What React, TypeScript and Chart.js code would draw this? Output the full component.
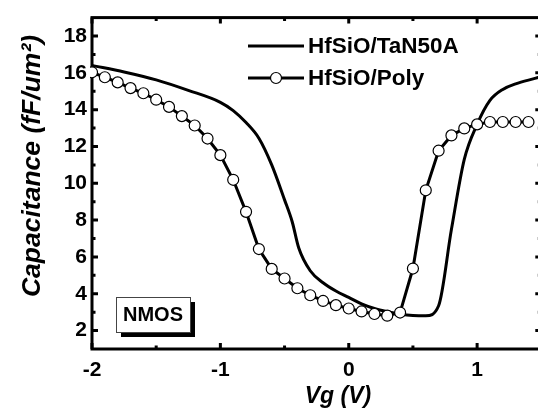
import React, { useEffect, useRef } from "react";
import { Chart, registerables } from "chart.js";

Chart.register(...registerables);

// ---- data ----
const tanX = [-2.0, -1.75, -1.5, -1.25, -1.0, -0.9, -0.8, -0.7, -0.6, -0.5, -0.44, -0.39, -0.3, -0.2, -0.1, 0.0, 0.1, 0.2, 0.3, 0.4, 0.5, 0.6, 0.7, 0.8, 0.9, 1.0, 1.1, 1.2, 1.3, 1.45, 1.5];
const tanY = [16.4, 16.05, 15.62, 15.05, 14.4, 13.95, 13.3, 12.45, 11.0, 9.1, 7.9, 6.5, 5.25, 4.6, 4.15, 3.8, 3.45, 3.2, 3.03, 2.9, 2.82, 2.8, 3.35, 7.5, 11.3, 13.2, 14.5, 15.1, 15.4, 15.7, 15.8];

const polyX = [-2.0, -1.9, -1.8, -1.7, -1.6, -1.5, -1.4, -1.3, -1.2, -1.1, -1.0, -0.9, -0.8, -0.7, -0.6, -0.5, -0.4, -0.3, -0.2, -0.1, 0.0, 0.1, 0.2, 0.3, 0.4, 0.5, 0.6, 0.7, 0.8, 0.9, 1.0, 1.1, 1.2, 1.3, 1.4];
const polyY = [16.03, 15.76, 15.48, 15.17, 14.89, 14.54, 14.15, 13.65, 13.14, 12.43, 11.53, 10.19, 8.45, 6.43, 5.35, 4.83, 4.3, 3.92, 3.61, 3.38, 3.2, 3.04, 2.9, 2.81, 2.98, 5.37, 9.62, 11.77, 12.6, 12.98, 13.2, 13.33, 13.33, 13.33, 13.33];

const xTicks = [-2, -1, 0, 1];
const yTicks = [2, 4, 6, 8, 10, 12, 14, 16, 18];
const seriesNames = ["HfSiO/TaN50A", "HfSiO/Poly"];
const xTitle = "Vg (V)";
const yTitle = "Capacitance (fF/um\u00B2)";
const boxLabel = "NMOS";

const FONT = "'Liberation Sans', Arial, Helvetica, sans-serif";

const framePlugin = {
  id: "frame",
  beforeDatasetsDraw(chart: any) {
    const { ctx, chartArea: a, scales } = chart;
    const xs = scales.x;
    const ys = scales.y;
    ctx.save();
    ctx.strokeStyle = "#000";
    ctx.lineWidth = 3;
    ctx.strokeRect(a.left, a.top, a.right - a.left, a.bottom - a.top);

    const majorLen = 6;
    const minorLen = 3.5;
    const xMinor: number[] = [];
    for (let i = 0; i < xTicks.length; i++) {
      const step = i + 1 < xTicks.length ? xTicks[i + 1] - xTicks[i] : xTicks[i] - xTicks[i - 1];
      const m = xTicks[i] + step / 2;
      if (m > xs.min && m < xs.max) xMinor.push(m);
    }
    const yMinor: number[] = [];
    for (let i = 0; i < yTicks.length; i++) {
      const step = i + 1 < yTicks.length ? yTicks[i + 1] - yTicks[i] : yTicks[i] - yTicks[i - 1];
      const m = yTicks[i] + step / 2;
      if (m > ys.min && m < ys.max) yMinor.push(m);
    }
    const drawX = (v: number, len: number) => {
      const px = xs.getPixelForValue(v);
      ctx.beginPath();
      ctx.moveTo(px, a.bottom);
      ctx.lineTo(px, a.bottom - len);
      ctx.moveTo(px, a.top);
      ctx.lineTo(px, a.top + len);
      ctx.stroke();
    };
    const drawY = (v: number, len: number) => {
      const py = ys.getPixelForValue(v);
      ctx.beginPath();
      ctx.moveTo(a.left, py);
      ctx.lineTo(a.left + len, py);
      ctx.moveTo(a.right, py);
      ctx.lineTo(a.right - len, py);
      ctx.stroke();
    };
    xTicks.forEach((v) => drawX(v, majorLen));
    xMinor.forEach((v) => drawX(v, minorLen));
    yTicks.forEach((v) => drawY(v, majorLen));
    yMinor.forEach((v) => drawY(v, minorLen));
    ctx.restore();
  },
  afterDatasetsDraw(chart: any) {
    const { ctx } = chart;
    ctx.save();
    ctx.strokeStyle = "#000";
    ctx.fillStyle = "#000";

    // legend
    const lx0 = 248;
    const lx1 = 304;
    const ly = [46, 78];
    ctx.lineWidth = 3;
    ctx.beginPath();
    ctx.moveTo(lx0, ly[0]);
    ctx.lineTo(lx1, ly[0]);
    ctx.moveTo(lx0, ly[1]);
    ctx.lineTo(lx1, ly[1]);
    ctx.stroke();
    ctx.beginPath();
    ctx.arc((lx0 + lx1) / 2, ly[1], 5.5, 0, Math.PI * 2);
    ctx.fillStyle = "#fff";
    ctx.fill();
    ctx.lineWidth = 1.2;
    ctx.stroke();
    ctx.fillStyle = "#000";
    ctx.font = `bold 22.5px ${FONT}`;
    ctx.textAlign = "left";
    ctx.textBaseline = "middle";
    ctx.fillText(seriesNames[0], 308, ly[0] + 1);
    ctx.fillText(seriesNames[1], 308, ly[1] + 1);

    // NMOS box
    const bx = 116, by = 297, bw = 74, bh = 35;
    ctx.fillStyle = "#000";
    ctx.fillRect(bx + 5, by + 5, bw, bh);
    ctx.fillStyle = "#fff";
    ctx.fillRect(bx, by, bw, bh);
    ctx.strokeStyle = "#444";
    ctx.lineWidth = 1;
    ctx.strokeRect(bx + 0.5, by + 0.5, bw, bh);
    ctx.fillStyle = "#000";
    ctx.font = `bold 20px ${FONT}`;
    ctx.textAlign = "center";
    ctx.textBaseline = "middle";
    ctx.fillText(boxLabel, bx + bw / 2, by + bh / 2 + 1);

    // axis titles
    ctx.font = `italic bold 23px ${FONT}`;
    ctx.textAlign = "center";
    ctx.textBaseline = "alphabetic";
    ctx.fillText(xTitle, 338, 403);

    ctx.save();
    ctx.translate(40, 166);
    ctx.rotate(-Math.PI / 2);
    ctx.font = `italic bold 26.5px ${FONT}`;
    ctx.fillText(yTitle, 0, 0);
    ctx.restore();

    ctx.restore();
  },
};

export default function App() {
  const ref = useRef<HTMLCanvasElement | null>(null);
  useEffect(() => {
    if (!ref.current) return;
    const chart = new Chart(ref.current, {
      type: "line",
      data: {
        datasets: [
          {
            label: seriesNames[1],
            data: polyX.map((x, i) => ({ x, y: polyY[i] })),
            borderColor: "#000",
            borderWidth: 3,
            pointRadius: 5.5,
            pointBorderWidth: 1.2,
            pointBackgroundColor: "#fff",
            pointBorderColor: "#000",
            tension: 0,
            clip: { left: 2, right: 10, top: 2, bottom: 2 },
          },
          {
            label: seriesNames[0],
            data: tanX.map((x, i) => ({ x, y: tanY[i] })),
            borderColor: "#000",
            borderWidth: 3,
            pointRadius: 0,
            cubicInterpolationMode: "monotone",
          },
        ],
      },
      options: {
        animation: false,
        responsive: false,
        devicePixelRatio: 1,
        layout: { padding: { top: 14, right: 3.3, left: 0, bottom: 0 } },
        plugins: { legend: { display: false }, tooltip: { enabled: false } },
        scales: {
          x: {
            type: "linear",
            min: -2,
            max: 1.5,
            grid: { display: false, drawTicks: false },
            border: { display: false },
            afterBuildTicks: (s: any) => {
              s.ticks = xTicks.map((v) => ({ value: v }));
            },
            afterFit: (s: any) => {
              s.height = 62;
            },
            ticks: {
              color: "#000",
              padding: 9,
              maxRotation: 0,
              autoSkip: false,
              font: { family: FONT, size: 21, weight: "bold" },
              callback: (v: any) => String(v),
            },
          },
          y: {
            type: "linear",
            min: 1,
            max: 19,
            grid: { display: false, drawTicks: false },
            border: { display: false },
            afterBuildTicks: (s: any) => {
              s.ticks = yTicks.map((v) => ({ value: v }));
            },
            afterFit: (s: any) => {
              s.width = 92;
            },
            ticks: {
              color: "#000",
              padding: 5,
              autoSkip: false,
              font: { family: FONT, size: 21, weight: "bold" },
              callback: (v: any) => String(v),
            },
          },
        },
      },
      plugins: [framePlugin],
    } as any);
    return () => chart.destroy();
  }, []);
  return (
    <div
      style={{
        position: "fixed",
        left: 0,
        top: 0,
        width: 538,
        height: 411,
        overflow: "hidden",
        background: "#fff",
      }}
    >
      <canvas ref={ref} width={548} height={411} style={{ display: "block" }} />
    </div>
  );
}
